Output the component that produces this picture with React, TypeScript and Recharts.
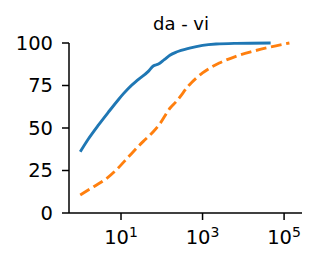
import { LineChart, Line, XAxis, YAxis } from "recharts";

const title = "da - vi";

// solid blue curve (x on log scale, y in %)
const blueX = [1, 1.58, 2.75, 4.9, 8.5, 11.5, 15.1, 26.3, 46.8, 61.7, 83, 115, 158, 229, 479, 1000, 2140, 6600, 46800];
const blueY = [36, 43.5, 51.5, 59.3, 66.5, 70.2, 73.3, 78.4, 83.3, 86.5, 87.6, 90.2, 92.8, 94.7, 97, 98.6, 99.4, 99.8, 100];

// dashed orange curve
const orangeX = [1, 2.14, 4.47, 7.9, 16.6, 34.7, 61.7, 89, 158, 229, 479, 1000, 2570, 6600, 17000, 42700, 135000];
const orangeY = [10.6, 15.5, 20.4, 25.7, 34, 42, 47.8, 52.4, 61.6, 65.7, 75.5, 82.4, 88.2, 92.2, 95.1, 97.5, 100];

const xTicks = [10, 1000, 100000];
const yTicks = [0, 25, 50, 75, 100];

const blueData = blueX.map((x, i) => ({ x, y: blueY[i] }));
const orangeData = orangeX.map((x, i) => ({ x, y: orangeY[i] }));

const font = "DejaVu Sans";

function XTick({ x, y, payload }: any) {
	const exp = Math.round(Math.log10(payload.value));
	return (
		<text x={x} y={y} textAnchor="middle" fontFamily={font} fill="#000">
			<tspan dy={24} fontSize={19.5}>10</tspan>
			<tspan dy={-7} fontSize={14}>{exp}</tspan>
		</text>
	);
}

export default function App() {
	return (
		<div style={{ position: "absolute", left: 0, top: 0, width: 325, height: 266, background: "#fff" }}>
			<LineChart
				width={325}
				height={266}
				margin={{ top: 43, right: 23, bottom: 0, left: 0 }}
			>
				<XAxis
					type="number"
					dataKey="x"
					scale="log"
					domain={[0.53, 275000]}
					allowDataOverflow
					ticks={xTicks}
					height={53}
					stroke="#000"
					strokeWidth={1.5}
					tickSize={7}
					tickMargin={0}
					tick={<XTick />}
				/>
				<YAxis
					type="number"
					domain={[0, 100]}
					ticks={yTicks}
					width={69}
					stroke="#000"
					strokeWidth={1.5}
					tickSize={7}
					tickMargin={9}
					tick={{ fill: "#000", fontSize: 19.5, fontFamily: font }}
				/>
				<Line
					data={blueData}
					dataKey="y"
					stroke="#1f77b4"
					strokeWidth={2.9}
					dot={false}
					type="monotone"
					isAnimationActive={false}
				/>
				<Line
					data={orangeData}
					dataKey="y"
					stroke="#ff7f0e"
					strokeWidth={2.9}
					strokeDasharray="10.8 4.7"
					dot={false}
					type="monotone"
					isAnimationActive={false}
				/>
			</LineChart>
			<svg width={325} height={266} style={{ position: "absolute", left: 0, top: 0, pointerEvents: "none" }}>
				<text x={181} y={30} textAnchor="middle" fontFamily={font} fontSize={18} fill="#000">
					{title}
				</text>
			</svg>
		</div>
	);
}
